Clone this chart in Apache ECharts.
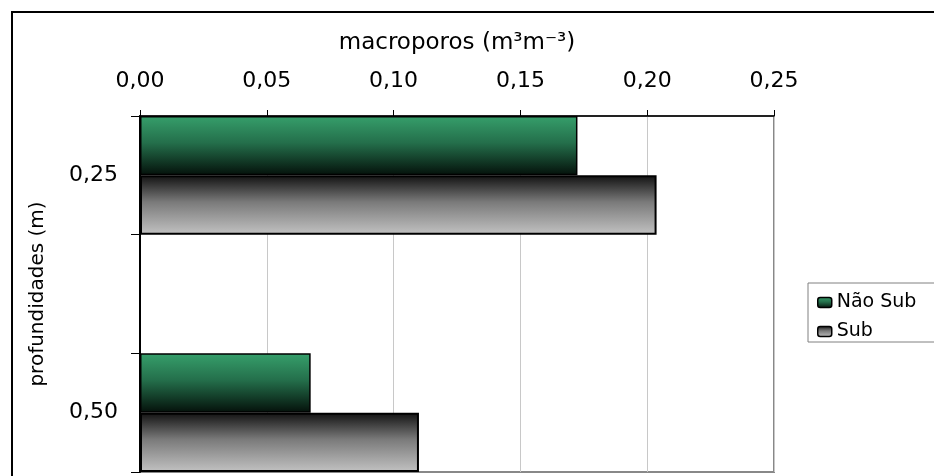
<!DOCTYPE html>
<html>
<head>
<meta charset="utf-8">
<script src="https://cdn.jsdelivr.net/npm/echarts@6/dist/echarts.min.js"></script>
<style>
html,body{margin:0;padding:0;background:#fff;}
#chart{width:934px;height:476px;}
</style>
</head>
<body>
<div id="chart"></div>
<script>
// Data
var categories = ['0,25', '', '0,50'];
var seriesNames = ['Não Sub', 'Sub'];
var naoSub = [0.1725, null, 0.0673];
var sub = [0.2037, null, 0.1100];
var xTicks = [0, 0.05, 0.10, 0.15, 0.20, 0.25];
var xTitle = 'macroporos (m³m⁻³)';
var yTitle = 'profundidades (m)';

var FONT = 'DejaVu Sans';
var chart = echarts.init(document.getElementById('chart'), null, {renderer: 'canvas'});

var greenGrad = new echarts.graphic.LinearGradient(0, 0, 0, 1, [
  {offset: 0, color: '#369f6b'},
  {offset: 0.45, color: '#246f4b'},
  {offset: 1, color: '#04100a'}
]);
var grayGrad = new echarts.graphic.LinearGradient(0, 0, 0, 1, [
  {offset: 0, color: '#111111'},
  {offset: 0.45, color: '#7a7a7a'},
  {offset: 1, color: '#c2c2c2'}
]);

var option = {
  backgroundColor: '#ffffff',
  animation: false,
  textStyle: {fontFamily: FONT, color: '#000'},
  graphic: [{
    type: 'rect',
    shape: {x: 12, y: 12, width: 1200, height: 800},
    style: {fill: 'none', stroke: '#000', lineWidth: 2},
    z: 100
  }],
  grid: {
    left: 140, right: 160, top: 116, bottom: 4,
    show: true, borderColor: '#888888', borderWidth: 2, backgroundColor: 'transparent'
  },
  legend: {
    orient: 'vertical',
    left: 808, top: 283,
    padding: [10, 80, 1, 9],
    itemGap: 10,
    itemWidth: 14, itemHeight: 10,
    borderColor: '#808080', borderWidth: 1,
    backgroundColor: '#fff',
    textStyle: {fontFamily: FONT, fontSize: 19, color: '#000'},
    data: seriesNames.map(function (n) {
      return {name: n, itemStyle: {borderColor: '#000', borderWidth: 1.5}};
    })
  },
  xAxis: {
    type: 'value',
    position: 'top',
    min: xTicks[0], max: xTicks[xTicks.length - 1], interval: 0.05,
    name: xTitle,
    nameLocation: 'middle',
    nameGap: 61,
    nameTextStyle: {fontFamily: FONT, fontSize: 23, color: '#000'},
    axisLine: {show: true, lineStyle: {color: '#000', width: 1.5}},
    axisTick: {show: true, inside: false, length: 6, lineStyle: {color: '#000'}},
    axisLabel: {
      margin: 24, fontFamily: FONT, fontSize: 22, color: '#000',
      formatter: function (v) { return v.toFixed(2).replace('.', ','); }
    },
    splitLine: {show: true, lineStyle: {color: '#c8c8c8', width: 1}}
  },
  yAxis: {
    type: 'category',
    inverse: true,
    data: categories,
    name: yTitle,
    nameLocation: 'middle',
    nameGap: 92,
    nameRotate: 90,
    nameTextStyle: {fontFamily: FONT, fontSize: 20, color: '#000'},
    axisLine: {show: true, lineStyle: {color: '#000', width: 2}},
    axisTick: {show: true, inside: false, length: 9, lineStyle: {color: '#000'}},
    axisLabel: {margin: 22, fontFamily: FONT, fontSize: 22, color: '#000'}
  },
  series: [{
    name: seriesNames[0],
    type: 'bar',
    data: naoSub,
    barGap: '0%',
    barCategoryGap: '0%',
    itemStyle: {color: greenGrad, borderColor: '#000', borderWidth: 1.5}
  }, {
    name: seriesNames[1],
    type: 'bar',
    data: sub,
    barGap: '0%',
    barCategoryGap: '0%',
    itemStyle: {color: grayGrad, borderColor: '#000', borderWidth: 2}
  }]
};
chart.setOption(option);
</script>
</body>
</html>
